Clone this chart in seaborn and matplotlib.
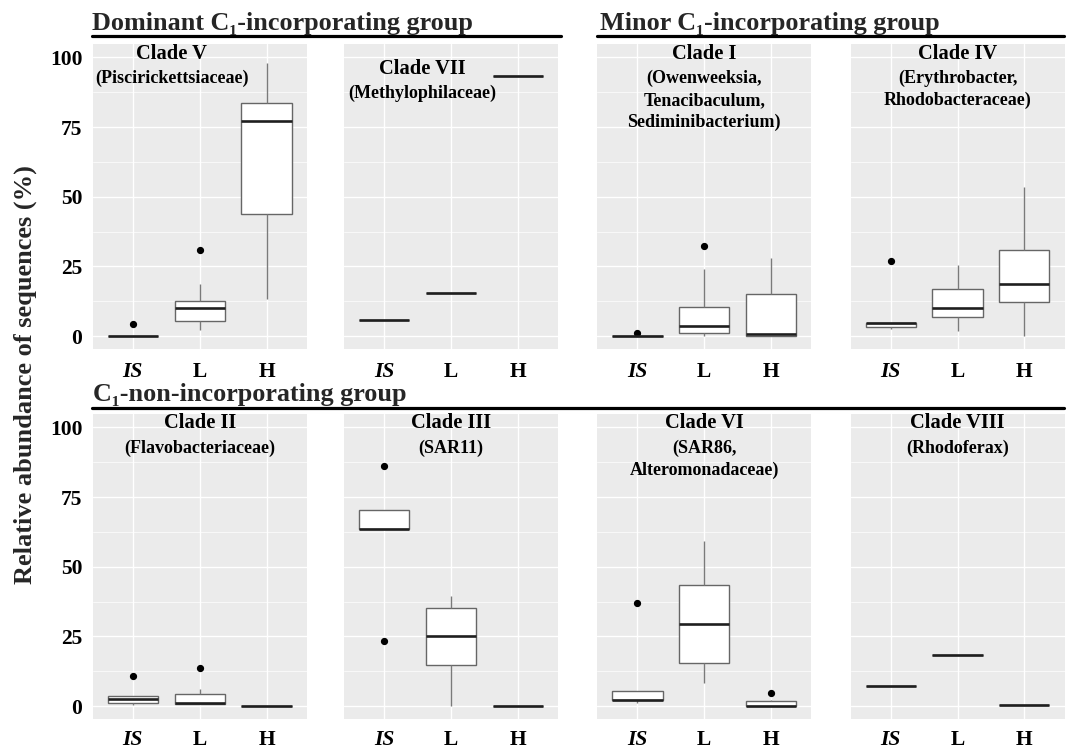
import matplotlib
matplotlib.use("Agg")
import matplotlib.pyplot as plt
from matplotlib.lines import Line2D
from matplotlib.ticker import FixedLocator
import pandas as pd
import seaborn as sns

# ---------------- data ----------------
groups = ["IS", "L", "H"]
y_ticks = [0, 25, 50, 75, 100]
y_label = "Relative abundance of sequences (%)"
header_dom = "Dominant C\u2081-incorporating group"
header_min = "Minor C\u2081-incorporating group"
header_non = "C\u2081-non-incorporating group"

# Clade V (Piscirickettsiaceae)
V_IS = [0, 0, 0, 0, 0, 0, 0, 0, 4.3]
V_L = [2.2, 4.0, 5.5, 8.0, 10.0, 11.5, 12.7, 18.7, 30.9]
V_H = [13.2, 30.0, 43.8, 65.0, 77.3, 80.0, 83.5, 90.0, 98.1]
# Clade VII (Methylophilaceae)
VII_IS = [5.8]
VII_L = [15.6]
VII_H = [93.2]
# Clade I
I_IS = [0, 0, 0, 0, 0, 0, 0, 0, 1.2]
I_L = [0.2, 0.6, 1.1, 2.5, 3.5, 7.0, 10.3, 24.0, 32.5]
I_H = [0, 0, 0, 0.3, 0.7, 8.0, 15.1, 22.0, 28.2]
# Clade IV
IV_IS = [2.5, 3.0, 3.4, 4.2, 4.6, 4.7, 4.9, 4.9, 27.1]
IV_L = [1.8, 4.0, 6.7, 8.5, 10.2, 14.0, 16.9, 21.0, 25.7]
IV_H = [0, 6.0, 12.4, 16.0, 18.8, 25.0, 30.8, 42.0, 53.4]
# Clade II
II_IS = [0.4, 0.7, 1.0, 2.0, 2.6, 3.2, 3.6, 3.6, 10.8]
II_L = [0.7, 0.7, 0.7, 0.9, 1.0, 3.0, 4.4, 6.2, 13.6]
II_H = [0.2]
# Clade III (SAR11)
III_IS = [23.4, 63.7, 63.7, 63.7, 63.7, 67.0, 70.5, 70.5, 86.1]
III_L = [0, 8.0, 14.6, 20.0, 25.1, 30.0, 35.2, 38.0, 39.4]
III_H = [0]
# Clade VI
VI_IS = [1.2, 1.8, 2.2, 2.3, 2.3, 4.0, 5.4, 5.4, 37.1]
VI_L = [8.2, 12.0, 15.4, 22.0, 29.4, 36.0, 43.5, 52.0, 59.2]
VI_H = [0, 0, 0, 0, 0, 1.0, 1.7, 2.2, 4.6]
# Clade VIII (Rhodoferax)
VIII_IS = [7.3]
VIII_L = [18.4]
VIII_H = [0.5]

titles = ["Clade V", "Clade VII", "Clade I", "Clade IV",
          "Clade II", "Clade III", "Clade VI", "Clade VIII"]
subtitles = [["(Piscirickettsiaceae)"],
             ["(Methylophilaceae)"],
             ["(Owenweeksia,", "Tenacibaculum,", "Sediminibacterium)"],
             ["(Erythrobacter,", "Rhodobacteraceae)"],
             ["(Flavobacteriaceae)"],
             ["(SAR11)"],
             ["(SAR86,", "Alteromonadaceae)"],
             ["(Rhodoferax)"]]
panel_data = [(V_IS, V_L, V_H), (VII_IS, VII_L, VII_H), (I_IS, I_L, I_H),
              (IV_IS, IV_L, IV_H), (II_IS, II_L, II_H), (III_IS, III_L, III_H),
              (VI_IS, VI_L, VI_H), (VIII_IS, VIII_L, VIII_H)]

# ---------------- style ----------------
sns.set_theme(style="darkgrid")
serif = ["Liberation Serif", "DejaVu Serif"]
plt.rcParams["font.family"] = serif
plt.rcParams["font.weight"] = "bold"

W, H = 1071, 750
fig = plt.figure(figsize=(W / 100, H / 100), dpi=100)
fig.patch.set_facecolor("white")

col_left = [92.7, 344.0, 597.3, 850.5]
col_w = 214.0
row_top = [44.0, 414.0]
row_h = 305.0

# text placement: (x in category units, title y, first subtitle y)
text_pos = [(0.58, 101.2, 92.4), (0.565, 95.7, 87.1), (1.0, 101.2, 92.4),
            (1.0, 101.2, 92.4), (1.0, 101.4, 92.4), (1.0, 101.4, 92.4),
            (1.0, 101.4, 92.4), (1.0, 101.4, 92.4)]
line_step = 7.9

for i in range(8):
    r, c = divmod(i, 4)
    left = col_left[c] / W
    bottom = 1 - (row_top[r] + row_h) / H
    ax = fig.add_axes([left, bottom, col_w / W, row_h / H])
    vals_is, vals_l, vals_h = panel_data[i]
    df = pd.DataFrame({
        "group": ["IS"] * len(vals_is) + ["L"] * len(vals_l) + ["H"] * len(vals_h),
        "value": list(vals_is) + list(vals_l) + list(vals_h),
    })
    sns.boxplot(data=df, x="group", y="value", order=groups, ax=ax,
                color="white", saturation=1, width=0.75,
                linecolor="#666666", linewidth=1.0, showcaps=False,
                flierprops=dict(marker="o", markersize=4.2,
                                markerfacecolor="black", markeredgecolor="black"),
                medianprops=dict(color="#1f1f1f", linewidth=1.9),
                whiskerprops=dict(color="#7a7a7a", linewidth=1.0))
    ax.set_facecolor("#EBEBEB")
    ax.set_xlim(-0.6, 2.6)
    ax.set_ylim(-4.6, 104.8)
    ax.set_yticks(y_ticks)
    ax.yaxis.set_minor_locator(FixedLocator([12.5, 37.5, 62.5, 87.5]))
    ax.set_axisbelow(True)
    ax.grid(True, which="major", color="white", linewidth=1.0)
    ax.grid(True, which="minor", axis="y", color="white", linewidth=0.5)
    for s in ax.spines.values():
        s.set_visible(False)
    ax.set_xlabel("")
    ax.set_ylabel("")
    ax.tick_params(which="minor", length=0)
    ax.tick_params(axis="both", which="major", length=3, width=0.6,
                   color="#444444", labelsize=15.5, labelcolor="black")
    ax.tick_params(axis="x", pad=6.0 if r == 0 else 5.0)
    ax.tick_params(axis="y", pad=4.5)
    ax.set_xticks([0, 1, 2])
    ax.set_xticklabels(groups)
    for lbl in ax.get_xticklabels():
        lbl.set_fontweight("bold")
        if lbl.get_text() == "IS":
            lbl.set_fontstyle("italic")
    if c == 0:
        ax.set_yticklabels([str(t) for t in y_ticks])
        for lbl in ax.get_yticklabels():
            lbl.set_fontweight("bold")
    else:
        ax.set_yticklabels([])
    tx, ty, sy = text_pos[i]
    ax.text(tx, ty, titles[i], ha="center", va="center",
            fontsize=14.8, fontweight="bold", color="black")
    for k, line in enumerate(subtitles[i]):
        ax.text(tx, sy - k * line_step, line, ha="center", va="center",
                fontsize=13, fontweight="bold", color="black")

# group headers
def fx(px):
    return px / W

def fy(py):
    return 1 - py / H

fig.text(fx(92), fy(30), header_dom, ha="left", va="baseline",
         fontsize=18.8, fontweight="bold", family=serif)
fig.text(fx(600), fy(30), header_min, ha="left", va="baseline",
         fontsize=18.8, fontweight="bold", family=serif)
fig.text(fx(93), fy(401.5), header_non, ha="left", va="baseline",
         fontsize=18.8, fontweight="bold", family=serif)
for (x0, x1, y) in [(92, 561, 35.5), (597, 1064, 35.5), (92, 1064, 407.5)]:
    fig.add_artist(Line2D([fx(x0), fx(x1)], [fy(y), fy(y)],
                          transform=fig.transFigure, color="black", linewidth=2.3))

fig.text(fx(25), fy(375), y_label, rotation=90, ha="center", va="center",
         fontsize=19, fontweight="bold")

fig.savefig("out.png", dpi=100, facecolor="white")
